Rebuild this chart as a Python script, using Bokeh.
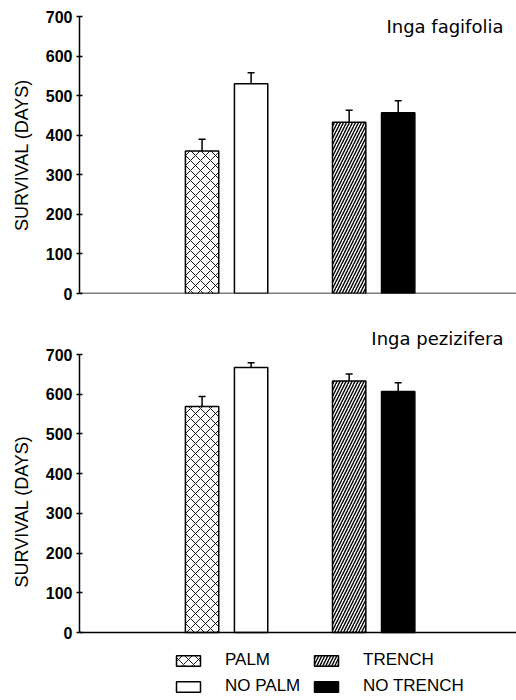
from bokeh.plotting import figure
from bokeh.models import (Range1d, ColumnDataSource, Whisker, TeeHead, Span, Label,
                          Legend, LegendItem, FixedTicker)
from bokeh.layouts import column
from bokeh.embed import file_html
from bokeh.resources import INLINE

# ---- data ----
categories = ["PALM", "NO PALM", "TRENCH", "NO TRENCH"]
species = ["Inga fagifolia", "Inga pezizifera"]
fagifolia_mean = [360, 530, 433, 457]
fagifolia_se = [30, 28, 30, 30]
pezizifera_mean = [569, 667, 633, 607]
pezizifera_se = [25, 12, 18, 22]
y_ticks = [0, 100, 200, 300, 400, 500, 600, 700]

# ---- styles ----
fills = ["white", "white", "white", "black"]
hatches = ["diagonal_cross", " ", "right_diagonal_line", " "]
hatch_scales = [10, 10, 6, 10]
hatch_weights = [0.9, 1, 1.4, 1]

# bar slots: two pairs separated by an empty slot
xpos = [2.5 + i + (i // 2) for i in range(len(categories))]

FONT = "Liberation Sans"
W = 516
LEFT = 79
X_END = 8.75 * (W - LEFT) / 429.0


def make_panel(name, means, ses, height, top_border, bottom_border, y_lo, y_hi,
               title_offset, legend=False):
    p = figure(width=W, height=height, output_backend="svg", toolbar_location=None,
               x_range=Range1d(0, X_END), y_range=Range1d(y_lo, y_hi),
               min_border=0, min_border_left=LEFT, min_border_right=0,
               min_border_top=top_border, min_border_bottom=bottom_border)
    p.xaxis.visible = False
    p.xgrid.visible = False
    p.ygrid.visible = False
    p.outline_line_color = None
    p.background_fill_color = None
    p.border_fill_color = None

    ax = p.yaxis[0]
    ax.bounds = (0, 700)
    ax.ticker = FixedTicker(ticks=y_ticks)
    ax.minor_tick_line_color = None
    ax.major_tick_in = 3
    ax.major_tick_out = 3
    ax.major_tick_line_width = 1.5
    ax.major_tick_line_color = "black"
    ax.axis_line_width = 1.5
    ax.axis_line_color = "black"
    ax.major_label_text_font = FONT
    ax.major_label_text_font_style = "bold"
    ax.major_label_text_font_size = "16px"
    ax.major_label_text_color = "black"
    ax.major_label_standoff = 4
    ax.axis_label = "SURVIVAL (DAYS)"
    ax.axis_label_text_font = FONT
    ax.axis_label_text_font_style = "normal"
    ax.axis_label_text_font_size = "18px"
    ax.axis_label_text_color = "black"
    ax.axis_label_standoff = 11

    src = ColumnDataSource(dict(x=xpos, top=means, lower=[m - s for m, s in zip(means, ses)],
                                upper=[m + s for m, s in zip(means, ses)],
                                fill=fills, hatch=hatches, hs=hatch_scales, hw=hatch_weights,
                                label=categories))
    r = p.vbar(x="x", top="top", bottom=0, width=0.68, source=src,
               fill_color="fill", line_color="black", line_width=1.5,
               hatch_pattern="hatch", hatch_color="black", hatch_scale="hs",
               hatch_weight="hw")

    w = Whisker(base="x", lower="lower", upper="upper", source=src, dimension="height",
                line_color="black", line_width=1.5,
                upper_head=TeeHead(size=7, line_width=1.5, line_color="black"),
                lower_head=TeeHead(size=7, line_width=1.5, line_color="black"))
    p.add_layout(w)

    p.add_layout(Span(location=0, dimension="width", line_color="black", line_width=1.5))

    p.add_layout(Label(x=X_END, y=700, text=name, text_align="right",
                       text_baseline="alphabetic", x_offset=-13, y_offset=title_offset,
                       text_font="DejaVu Sans", text_font_size="18px", text_color="black"))

    if legend:
        items = [LegendItem(label=c, renderers=[r], index=i) for i, c in enumerate(categories)]
        lg = Legend(items=items, location=(94, 4), ncols=2, orientation="vertical",
                    glyph_width=30, glyph_height=13, label_height=20, label_width=80,
                    label_standoff=22, spacing=6, padding=0, margin=0,
                    border_line_alpha=0, background_fill_alpha=0,
                    label_text_font=FONT, label_text_font_size="17px",
                    label_text_color="black")
        p.add_layout(lg, "center")
    return p


# top panel: 700 at y=16px, 0 at y=293px
p1 = make_panel(species[0], fagifolia_mean, fagifolia_se, 318, 16, 25, 0, 700, -10)
# bottom panel: 700 at y=354px, 0 at y=632px (frame from 322 to 700)
px2 = 278.0 / 700.0
p2 = make_panel(species[1], pezizifera_mean, pezizifera_se, 382, 4, 0,
                -(700 - 632) / px2, (632 - 322) / px2, 16, legend=True)

layout = column(p1, p2, spacing=0)
open("out.html", "w").write(file_html(layout, INLINE))
